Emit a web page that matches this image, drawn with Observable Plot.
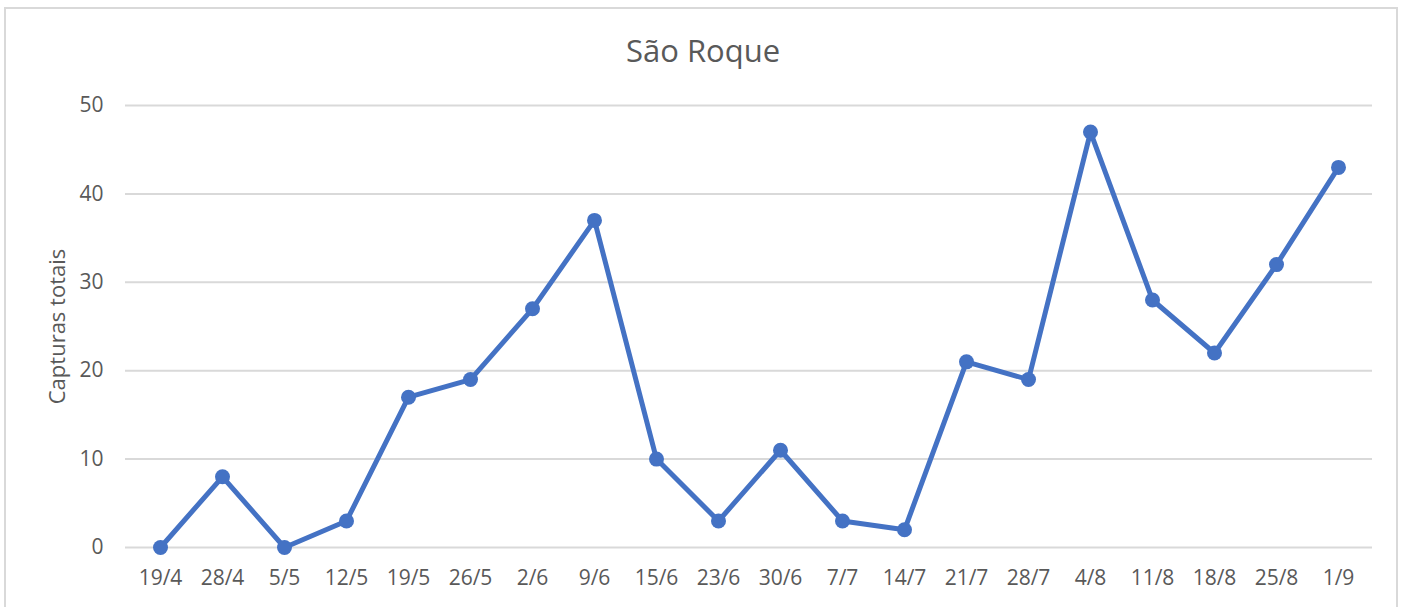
<!DOCTYPE html>
<html>
<head>
<meta charset="utf-8">
<script src="https://cdn.jsdelivr.net/npm/d3@7"></script>
<script src="https://cdn.jsdelivr.net/npm/@observablehq/plot@0.6"></script>
<style>
  html, body { margin: 0; padding: 0; background: #fff; overflow: hidden; }
  #wrap { position: relative; width: 1408px; height: 607px; }
  #frame { position: absolute; left: 4px; top: 7px; width: 1394px; height: 620px; border: 2px solid #d9d9d9; box-sizing: border-box; }
  #chart { position: absolute; left: 0; top: 0; }
</style>
</head>
<body>
<div id="wrap">
  <div id="frame"></div>
  <div id="chart"></div>
</div>
<script>
const dates = ["19/4","28/4","5/5","12/5","19/5","26/5","2/6","9/6","15/6","23/6","30/6","7/7","14/7","21/7","28/7","4/8","11/8","18/8","25/8","1/9"];
const captures = [0, 8, 0, 3, 17, 19, 27, 37, 10, 3, 11, 3, 2, 21, 19, 47, 28, 22, 32, 43];
const yTicks = [0, 10, 20, 30, 40, 50];
const title = "São Roque";
const yLabel = "Capturas totais";

const data = dates.map((d, i) => ({date: d, value: captures[i]}));
const color = "#4472c4";
const textColor = "#595959";

const chart = Plot.plot({
  width: 1408,
  height: 607,
  marginLeft: 125,
  marginRight: 36,
  marginTop: 105,
  marginBottom: 60,
  style: {fontFamily: "'Open Sans', sans-serif", fontSize: "20px", color: textColor, background: "transparent"},
  x: {type: "point", domain: dates, padding: 0.5},
  y: {domain: [0, 50]},
  marks: [
    Plot.gridY(yTicks, {stroke: "#d9d9d9", strokeWidth: 2, strokeOpacity: 1}),
    Plot.axisY(yTicks, {tickSize: 0, tickPadding: 22, fontSize: 21, fill: textColor, label: null}),
    Plot.text([yLabel], {text: d => d, frameAnchor: "left", textAnchor: "middle", dx: -68, rotate: -90, fontSize: 22, fill: textColor, lineAnchor: "middle"}),
    Plot.axisX(dates, {tickSize: 0, tickPadding: 23, fontSize: 21, fill: textColor, label: null}),
    Plot.line(data, {x: "date", y: "value", stroke: color, strokeWidth: 5, strokeLinejoin: "round"}),
    Plot.dot(data, {x: "date", y: "value", r: 7.5, fill: color, stroke: null}),
    Plot.text([title], {text: d => d, frameAnchor: "top", dx: -46, dy: -53, fontSize: 31, fill: textColor, lineAnchor: "middle"})
  ]
});
document.getElementById("chart").appendChild(chart);
</script>
</body>
</html>
